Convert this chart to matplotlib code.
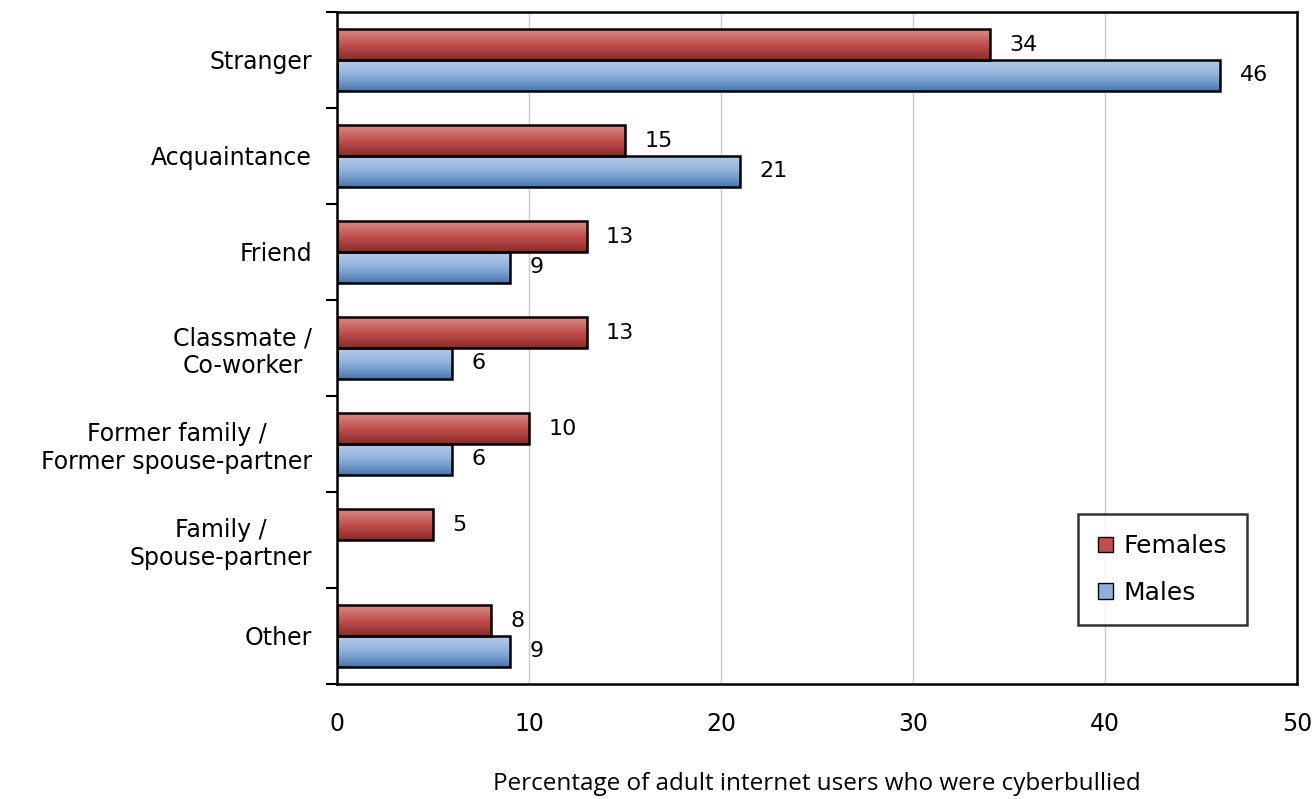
import numpy as np
import matplotlib.pyplot as plt
from matplotlib.patches import Rectangle
from matplotlib.colors import LinearSegmentedColormap

categories = ["Stranger", "Acquaintance", "Friend", "Classmate /\nCo-worker",
              "Former family /\nFormer spouse-partner", "Family /\nSpouse-partner", "Other"]
females = [34, 15, 13, 13, 10, 5, 8]
males = [46, 21, 9, 6, 6, None, 9]

female_cmap = LinearSegmentedColormap.from_list("f", ["#8e2a28", "#c0504d", "#d98b89"])
male_cmap = LinearSegmentedColormap.from_list("m", ["#4a78b4", "#8db0da", "#b5cbe6"])


def gradient_bar(ax, x0, width, y0, height, cmap):
    # light at the top of the bar, dark at the bottom
    grad = np.linspace(1, 0, 64).reshape(-1, 1)
    ax.imshow(grad, cmap=cmap, aspect="auto", extent=(x0, x0 + width, y0 + height, y0),
              origin="upper", zorder=2, interpolation="bicubic")
    ax.add_patch(Rectangle((x0, y0), width, height, fill=False, edgecolor="black",
                           linewidth=1.8, zorder=3))


fig = plt.figure(figsize=(13.13, 7.99), dpi=100)
ax = fig.add_axes([0.2567, 0.144, 0.731, 0.841])

n = len(categories)
bh = 0.32
for i in range(n):
    f = females[i]
    m = males[i]
    if f is not None:
        gradient_bar(ax, 0, f, i - bh, bh, female_cmap)
        ax.annotate(str(f), (f, i - bh / 2), xytext=(14, 0), textcoords="offset points",
                    va="center", ha="left", fontsize=16)
    if m is not None:
        gradient_bar(ax, 0, m, i, bh, male_cmap)
        ax.annotate(str(m), (m, i + bh / 2), xytext=(14, 0), textcoords="offset points",
                    va="center", ha="left", fontsize=16)

ax.set_xlim(0, 50)
ax.set_ylim(n - 0.5, -0.5)
ax.set_xticks(np.arange(0, 51, 10))
ax.tick_params(axis="x", length=0, pad=20, labelsize=17)
ax.set_yticks(range(n))
ax.set_yticklabels(categories, fontsize=17, multialignment="center")
ax.tick_params(axis="y", length=0, pad=18)
ax.set_yticks(np.arange(-0.5, n, 1), minor=True)
ax.tick_params(axis="y", which="minor", length=8, width=1.5, direction="out")
ax.xaxis.grid(True, color="#c8c8c8", linewidth=1)
ax.set_axisbelow(True)
for s in ax.spines.values():
    s.set_linewidth(1.8)

ax.set_xlabel("Percentage of adult internet users who were cyberbullied",
              fontsize=17.5, family="Open Sans", labelpad=26)

handles = [Rectangle((0, 0), 1, 1, facecolor="#c0504d", edgecolor="black"),
           Rectangle((0, 0), 1, 1, facecolor="#8db0da", edgecolor="black")]
leg = ax.legend(handles, ["Females", "Males"], loc="lower right",
                bbox_to_anchor=(0.948, 0.088), fontsize=18, frameon=True, fancybox=False,
                edgecolor="black", handlelength=0.6, handleheight=0.6, handletextpad=0.4,
                borderpad=0.8, labelspacing=0.9, borderaxespad=0)
leg.get_frame().set_linewidth(1.8)
leg._legend_box.align = "left"
fig.canvas.draw()
bb = leg.get_frame()
bb.set_boxstyle("square", pad=0)

fig.savefig("out.png", dpi=100)
